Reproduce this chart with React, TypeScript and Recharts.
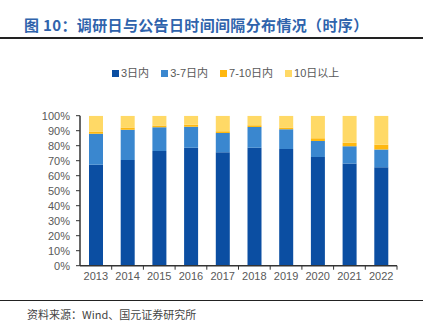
import React from "react";
import { BarChart, Bar, XAxis, YAxis, Legend } from "recharts";

const categories = ["2013", "2014", "2015", "2016", "2017", "2018", "2019", "2020", "2021", "2022"];
const within3 = [67.3, 70.5, 76.4, 78.7, 75.6, 78.7, 77.8, 72.4, 68.1, 65.7];
const days3to7 = [20.7, 20.2, 15.9, 14.0, 12.8, 13.8, 13.1, 10.7, 11.6, 11.7];
const days7to10 = [1.4, 1.4, 1.2, 1.2, 1.2, 1.2, 1.2, 1.9, 2.2, 3.3];
const over10 = [10.6, 7.9, 6.5, 6.1, 10.4, 6.3, 7.9, 15.0, 18.1, 19.3];
const yTicks = [0, 10, 20, 30, 40, 50, 60, 70, 80, 90, 100];

const seriesNames = ["3日内", "3-7日内", "7-10日内", "10日以上"];
const seriesKeys = ["a", "b", "c", "d"];
const seriesColors = ["#0B4EA2", "#3A87CF", "#FFB80F", "#FFD966"];

const data = categories.map((c, i) => ({
  year: c,
  a: within3[i],
  b: days3to7[i],
  c: days7to10[i],
  d: over10[i],
}));

const CHART_W = 433;
const CHART_H = 321;
const PLOT_LEFT = 80;
const PLOT_RIGHT = 36;
const BAND = (CHART_W - PLOT_LEFT - PLOT_RIGHT) / categories.length;

const XTick = (props: any) => {
  const { x, y, payload, index } = props;
  const isLast = index === categories.length - 1;
  return (
    <g>
      {index > 0 && (
        <line x1={x - BAND / 2} x2={x - BAND / 2} y1={y - 8} y2={y - 4} stroke="#333" strokeWidth={1} />
      )}
      {isLast && (
        <line x1={x + BAND / 2} x2={x + BAND / 2} y1={y - 8} y2={y - 4} stroke="#333" strokeWidth={1} />
      )}
      <text x={x} y={y + 6} textAnchor="middle" fill="#595959" fontSize={11} fontFamily="Liberation Sans, Arial, sans-serif">
        {payload.value}
      </text>
    </g>
  );
};

const LegendContent = () => (
  <div
    style={{
      display: "flex",
      justifyContent: "flex-start",
      paddingLeft: 112,
      fontSize: 11,
      lineHeight: "14px",
      color: "#595959",
      fontFamily: "'Liberation Sans', 'Noto Sans CJK SC', sans-serif",
    }}
  >
    {seriesNames.map((n, i) => (
      <div key={n} style={{ display: "flex", alignItems: "center", marginRight: i < seriesNames.length - 1 ? 12 : 0 }}>
        <span style={{ display: "inline-block", width: 7, height: 7, background: seriesColors[i], marginRight: 2 }} />
        <span style={{ whiteSpace: "nowrap" }}>{n}</span>
      </div>
    ))}
  </div>
);

export default function App() {
  return (
    <div style={{ position: "absolute", left: 0, top: 0, width: CHART_W, height: CHART_H, background: "#fff", overflow: "hidden" }}>
      <div
        style={{
          position: "absolute",
          left: 24,
          top: 15,
          fontSize: 15,
          fontWeight: "bold",
          color: "#2F63AC",
          fontFamily: "'Noto Sans CJK SC', sans-serif",
          lineHeight: "20px",
          whiteSpace: "nowrap",
          letterSpacing: 0.35,
        }}
      >
        图 10：调研日与公告日时间间隔分布情况（时序）
      </div>
      <div style={{ position: "absolute", left: 0, top: 37, width: 423, height: 1.5, background: "#222" }} />
      <div style={{ position: "absolute", left: 0, top: 299.5, width: 423, height: 1.5, background: "#222" }} />
      <div
        style={{
          position: "absolute",
          left: 27,
          top: 306,
          fontSize: 11,
          color: "#444",
          fontFamily: "'Noto Sans CJK SC', sans-serif",
          lineHeight: "16px",
          whiteSpace: "nowrap",
        }}
      >
        资料来源：Wind、国元证券研究所
      </div>
      <div style={{ position: "absolute", left: 0, top: 0 }}>
        <BarChart
          width={CHART_W}
          height={CHART_H}
          data={data}
          margin={{ top: 101.7, right: PLOT_RIGHT, bottom: 25.3, left: 0 }}
          barSize={14}
        >
          <Legend
            verticalAlign="top"
            content={<LegendContent />}
            wrapperStyle={{ position: "absolute", top: 66, left: 0, width: CHART_W }}
          />
          <XAxis
            dataKey="year"
            tickLine={false}
            axisLine={{ stroke: "#333", strokeWidth: 1.5 }}
            tick={<XTick />}
            height={30}
            interval={0}
          />
          <YAxis
            width={PLOT_LEFT}
            domain={[0, 100]}
            ticks={yTicks}
            interval={0}
            tickFormatter={(v: number) => `${v}%`}
            axisLine={{ stroke: "#333", strokeWidth: 1.5 }}
            tickLine={{ stroke: "#333" }}
            tickSize={4}
            tickMargin={6}
            tick={{ fill: "#595959", fontSize: 11, fontFamily: "Liberation Sans, Arial, sans-serif" }}
            allowDataOverflow
          />
          {seriesKeys.map((k, i) => (
            <Bar key={k} dataKey={k} name={seriesNames[i]} stackId="s" fill={seriesColors[i]} isAnimationActive={false} />
          ))}
        </BarChart>
      </div>
    </div>
  );
}
